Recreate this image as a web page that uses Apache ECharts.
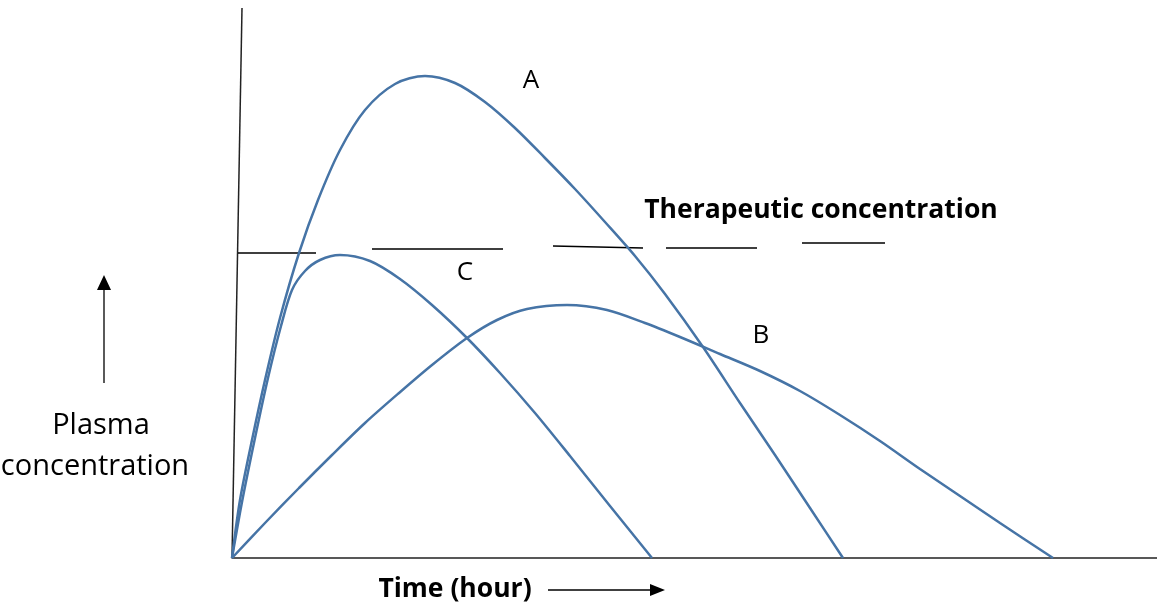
<!DOCTYPE html>
<html>
<head>
<meta charset="utf-8">
<script src="https://cdn.jsdelivr.net/npm/echarts@6/dist/echarts.min.js"></script>
<style>
  html, body { margin: 0; padding: 0; background: #fff; }
  #echarts { width: 1157px; height: 604px; }
</style>
</head>
<body>
<div id="echarts"></div>
<script>
// curves: [time, concentration] in arbitrary units (no ticks on the sketch)
var curveA = [[0, 0], [0.8, 5.8], [2.0, 11.8], [3.3, 17.8], [4.8, 24.0], [6.7, 30.5], [8.6, 35.8],
  [10.8, 40.8], [13.3, 44.8], [16.3, 47.4], [19.3, 48.2], [22.3, 47.5], [25.3, 45.6], [28.3, 43.0],
  [31.3, 40.0], [34.3, 36.9], [37.3, 33.6], [40.3, 30.2], [43.3, 26.4], [47.1, 21.1], [50.8, 15.5],
  [54.3, 10.3], [57.8, 5.0], [61.1, 0]];
var curveB = [[0, 0], [3.3, 3.5], [6.7, 7.0], [10.0, 10.3], [13.3, 13.5], [16.7, 16.5], [20.0, 19.3],
  [23.5, 22.0], [26.5, 23.8], [29.5, 24.9], [33.5, 25.3], [37.5, 24.8], [41.3, 23.5], [44.8, 22.1],
  [48.8, 20.4], [52.8, 18.7], [56.8, 16.7], [60.8, 14.3], [64.8, 11.7], [68.8, 8.9], [72.8, 6.2],
  [76.8, 3.5], [82.1, 0]];
var curveC = [[0, 0], [1.0, 5.6], [2.3, 12.0], [3.6, 18.0], [4.9, 23.2], [6.0, 26.8], [7.3, 28.7],
  [8.8, 29.8], [10.8, 30.3], [13.8, 29.7], [16.8, 27.9], [20.0, 25.3], [23.5, 22.0], [26.8, 18.5],
  [30.3, 14.5], [33.8, 10.2], [37.8, 5.2], [42.0, 0]];
// hand-drawn broken line for the therapeutic level
var therapeuticLine = [[0.6, 30.5], [8.4, 30.5], null, [14.0, 30.9], [27.1, 30.9], null,
  [32.1, 31.2], [41.1, 31.0], null, [43.4, 31.0], [52.5, 31.0], null, [57.0, 31.5], [65.3, 31.5]];
// slightly leaning vertical axis
var yAxisLine = [[0, 0], [1.0, 55.0]];

var blue = '#4674a6';
var font = '"Open Sans", "Liberation Sans", sans-serif';

var myChart = echarts.init(document.getElementById('echarts'));

function curve(name, data) {
  return {
    name: name, type: 'line', data: data, smooth: 0.3, showSymbol: false,
    lineStyle: { color: blue, width: 2.5 }, z: 3
  };
}

function label(text, x, y, f) {
  return {
    type: 'text', x: x, y: y,
    style: { text: text, font: f, fill: '#000', textAlign: 'center', textVerticalAlign: 'middle' }
  };
}

var option = {
  animation: false,
  grid: { left: 232, right: 0, top: 8, bottom: 46 },
  xAxis: {
    type: 'value', min: 0, max: 92.5,
    axisLine: { show: true, lineStyle: { color: '#222', width: 1.5 } },
    axisTick: { show: false }, axisLabel: { show: false }, splitLine: { show: false }
  },
  yAxis: { type: 'value', min: 0, max: 55, show: false },
  series: [
    curve('A', curveA),
    curve('B', curveB),
    curve('C', curveC),
    {
      name: 'therapeutic', type: 'line', data: therapeuticLine, showSymbol: false,
      connectNulls: false, lineStyle: { color: '#000', width: 1.5 }, z: 2
    },
    {
      name: 'yaxis', type: 'line', data: yAxisLine, showSymbol: false,
      lineStyle: { color: '#222', width: 1.5 }, z: 1
    }
  ],
  graphic: [
    label('A', 531, 81, '26px ' + font),
    label('B', 761, 336, '26px ' + font),
    label('C', 465, 273, '26px ' + font),
    label('Therapeutic concentration', 821, 210, 'bold 26.5px ' + font),
    label('Time (hour)', 455, 589, 'bold 26.5px ' + font),
    label('Plasma', 101, 426, '29px ' + font),
    label('concentration', 95, 467, '29px ' + font),
    // arrows
    { type: 'line', shape: { x1: 548, y1: 590, x2: 652, y2: 590 }, style: { stroke: '#000', lineWidth: 1.3 } },
    { type: 'polygon', shape: { points: [[650, 584], [665, 590], [650, 596]] }, style: { fill: '#000' } },
    { type: 'line', shape: { x1: 104, y1: 383, x2: 104, y2: 288 }, style: { stroke: '#000', lineWidth: 1.3 } },
    { type: 'polygon', shape: { points: [[97, 290], [104, 275], [111, 290]] }, style: { fill: '#000' } }
  ]
};
myChart.setOption(option);
</script>
</body>
</html>
